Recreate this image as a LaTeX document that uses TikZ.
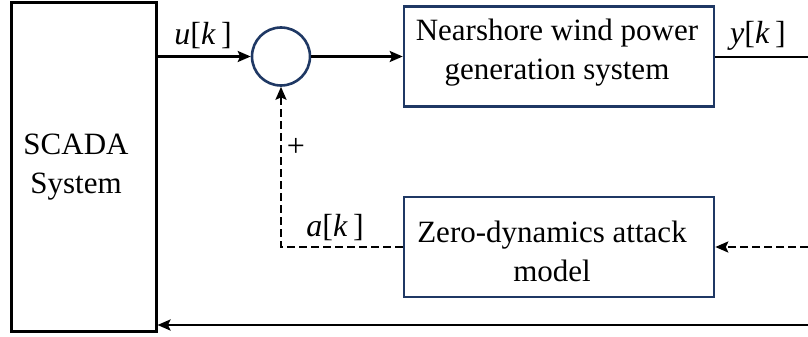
\documentclass[tikz,border=0pt]{standalone}
\usepackage{fontspec}
\setmainfont{Liberation Serif}
\usetikzlibrary{arrows.meta}
\definecolor{navy}{RGB}{31,56,100}
\tikzset{
  blk/.style={draw=navy,line width=2.6pt,minimum width=310pt,minimum height=100pt,inner sep=0pt},
  txt/.style={font=\fontsize{31}{39}\selectfont,align=center,inner sep=0pt},
  lbl/.style={font=\fontsize{32}{36}\selectfont,inner sep=0pt},
  conn/.style={line width=2.4pt,-{Stealth[length=13pt,width=11pt,inset=2.5pt]}},
  dconn/.style={conn,dash pattern=on 8pt off 4pt},
}
\begin{document}
\begin{tikzpicture}[x=1pt,y=-1pt]
\useasboundingbox (0,0) rectangle (808,337);
\node[draw=black,line width=3pt,minimum width=145pt,minimum height=328pt,inner sep=0pt] (scada) at (83.5,167) {};
\node[txt] (scadatext) at (76,167) {SCADA\\System};
\node[draw=navy,line width=2.6pt,circle,minimum size=58pt,inner sep=0pt] (sum) at (281,56.5) {};
\node[blk] (plant) at (559,56.5) {};
\node[txt] (planttext) at (557,53) {Nearshore wind power\\generation system};
\node[blk] (zbox) at (559,247) {};
\node[txt] (ztext) at (552,251) {Zero-dynamics attack\\model};
\coordinate (yout) at (808,57);
\coordinate (zin) at (808,247);
\coordinate (fb) at (808,325);
\draw[conn] (scada.east |- sum) -- (sum.west);
\draw[conn] (sum.east) -- (plant.west);
\draw[line width=2.4pt] (plant.east |- yout) -- (yout);
\draw[dconn] (zin) -- (zbox.east);
\draw[dconn] (zbox.west) -| (sum.south);
\draw[conn] (fb) -- (scada.east |- fb);
\node[lbl] (ulbl) at (203,36) {\textit{u}[\textit{k}\,]};
\node[lbl] (ylbl) at (758,36) {\textit{y}[\textit{k}\,]};
\node[lbl] (albl) at (335,228) {\textit{a}[\textit{k}\,]};
\node[lbl] (plus) at (296,147) {+};
\end{tikzpicture}
\end{document}
